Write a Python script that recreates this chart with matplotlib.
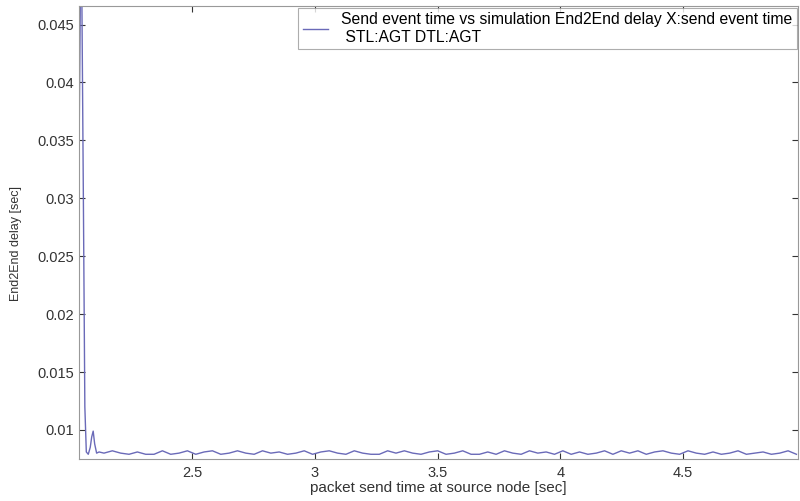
import matplotlib
matplotlib.use("Agg")
import matplotlib.pyplot as plt
import numpy as np

# start-up part of the trace (send time [s], delay [s])
t_start = [2.038, 2.044, 2.050, 2.056, 2.062, 2.068, 2.076, 2.084, 2.090, 2.096, 2.102, 2.110, 2.120]
d_start = [0.0330, 0.0480, 0.0470, 0.0300, 0.0120, 0.0081, 0.0079, 0.0085, 0.0094, 0.0099, 0.0088, 0.0080, 0.0081]

# steady part: small wobble around 0.008 s
t_steady_first = 2.14
t_steady_step = 0.034
d_steady = [0.0080, 0.0082, 0.0080, 0.0079, 0.0081, 0.0079, 0.0079, 0.0082, 0.0079, 0.0080,
            0.0082, 0.0079, 0.0081, 0.0082, 0.0079, 0.0080, 0.0082, 0.0080, 0.0079, 0.0082,
            0.0080, 0.0081, 0.0079, 0.0080, 0.0082, 0.0079, 0.0081, 0.0082, 0.0080, 0.0079,
            0.0082, 0.0080, 0.0079, 0.0079, 0.0082, 0.0080, 0.0082, 0.0080, 0.0079, 0.0081,
            0.0082, 0.0079, 0.0080, 0.0082, 0.0079, 0.0079, 0.0081, 0.0079, 0.0082, 0.0080,
            0.0079, 0.0082, 0.0080, 0.0081, 0.0079, 0.0082, 0.0079, 0.0081, 0.0079, 0.0080,
            0.0082, 0.0079, 0.0082, 0.0080, 0.0082, 0.0079, 0.0081, 0.0082, 0.0080, 0.0079,
            0.0082, 0.0080, 0.0079, 0.0081, 0.0079, 0.0080, 0.0082, 0.0079, 0.0080, 0.0081,
            0.0079, 0.0080, 0.0082, 0.0079]

x_ticks = [2.5, 3, 3.5, 4, 4.5]
x_tick_labels = ["2.5", "3", "3.5", "4", "4.5"]
y_ticks = [0.01, 0.015, 0.02, 0.025, 0.03, 0.035, 0.04, 0.045]
y_tick_labels = ["0.01", "0.015", "0.02", "0.025", "0.03", "0.035", "0.04", "0.045"]

t_steady = t_steady_first + t_steady_step * np.arange(len(d_steady))
t_all = np.concatenate([t_start, t_steady])
d_all = np.concatenate([d_start, d_steady])

plt.rcParams['font.family'] = ['Liberation Sans', 'DejaVu Sans']

fig = plt.figure(figsize=(8, 5.01), dpi=100)
ax = fig.add_axes([0.099, 0.084, 0.899, 0.904])

ax.plot(t_all, d_all, color='#6a6ab8', linewidth=1.0,
        label="Send event time vs simulation End2End delay X:send event time\n STL:AGT DTL:AGT")

ax.set_xlim(2.039, 4.97)
ax.set_ylim(0.0075, 0.0466)
ax.set_xticks(x_ticks)
ax.set_xticklabels(x_tick_labels)
ax.set_yticks(y_ticks)
ax.set_yticklabels(y_tick_labels)
ax.tick_params(direction='in', top=True, right=True, length=4, labelsize=10.5, colors='#333333')
ax.tick_params(axis='x', pad=5)
for s in ax.spines.values():
    s.set_color('#999999')

ax.set_xlabel("packet send time at source node [sec]", fontsize=11, color='#333333', labelpad=1)
ax.set_ylabel("End2End delay [sec]", fontsize=9, color='#333333')
ax.yaxis.set_label_coords(-0.079, 0.475)

leg = ax.legend(loc='upper right', fontsize=11.3, frameon=True, fancybox=False,
                borderaxespad=0.1, handlelength=1.6, handletextpad=0.8, labelspacing=0.1,
                borderpad=0.3)
leg.get_frame().set_edgecolor('#999999')
leg.get_frame().set_linewidth(0.8)

fig.savefig("out.png", dpi=100)
